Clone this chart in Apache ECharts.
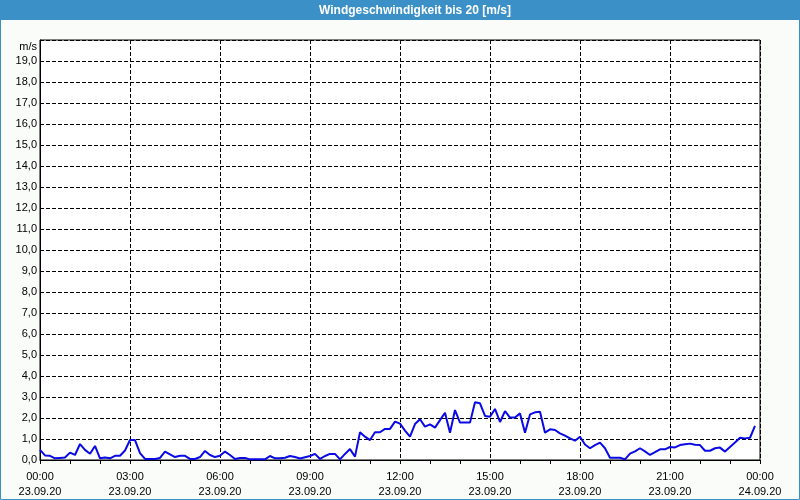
<!DOCTYPE html>
<html>
<head>
<meta charset="utf-8">
<script src="https://cdn.jsdelivr.net/npm/echarts@6/dist/echarts.min.js"></script>
<style>
html,body{margin:0;padding:0;background:#f9fcf9;}
#c{width:800px;height:500px;}
</style>
</head>
<body>
<div id="c"></div>
<script>
// Wind speed, 10-minute steps from 23.09.20 00:00
const stepMinutes = 10;
const windSpeed = [
0.48,0.22,0.2,0.08,0.1,0.12,0.35,0.24,0.76,0.48,0.3,0.67,0.08,0.12,0.08,0.2,0.2,0.45,0.95,0.95,
0.33,0.05,0.05,0.05,0.1,0.4,0.27,0.14,0.2,0.2,0.05,0.05,0.14,0.43,0.24,0.14,0.2,0.4,0.24,0.05,
0.1,0.1,0.03,0.03,0.03,0.03,0.19,0.08,0.08,0.11,0.19,0.14,0.07,0.13,0.19,0.29,0.05,0.19,0.29,0.29,
0.03,0.29,0.52,0.16,1.32,1.11,0.95,1.32,1.32,1.48,1.48,1.83,1.73,1.4,1.11,1.71,1.94,1.59,1.7,1.54,
1.9,2.25,1.3,2.38,1.78,1.78,1.78,2.75,2.7,2.1,2.06,2.43,1.81,2.33,2.02,2.02,2.22,1.3,2.17,2.27,
2.3,1.3,1.46,1.43,1.27,1.16,1.03,0.92,1.11,0.74,0.56,0.71,0.83,0.56,0.11,0.11,0.11,0.03,0.3,0.41,
0.56,0.41,0.24,0.37,0.51,0.51,0.62,0.6,0.71,0.75,0.78,0.73,0.71,0.44,0.44,0.56,0.59,0.4,0.62,0.83,
1.06,1.03,1.06,1.63
];
const xTimeLabels = ['00:00','03:00','06:00','09:00','12:00','15:00','18:00','21:00','00:00'];
const xDateLabels = ['23.09.20','23.09.20','23.09.20','23.09.20','23.09.20','23.09.20','23.09.20','23.09.20','24.09.20'];
const yTickLabels = ['0,0','1,0','2,0','3,0','4,0','5,0','6,0','7,0','8,0','9,0','10,0','11,0','12,0','13,0','14,0','15,0','16,0','17,0','18,0','19,0',''];
const titleText = 'Windgeschwindigkeit bis 20 [m/s]';
const unitText = 'm/s';

const seriesData = windSpeed.map((v, i) => [i * stepMinutes, v]);

const chart = echarts.init(document.getElementById('c'), null, {renderer: 'canvas'});
const font = 'Liberation Sans, Arial, sans-serif';
chart.setOption({
  animation: false,
  backgroundColor: '#f9fcf9',
  grid: {left: 40, right: 40, top: 40, bottom: 40, show: true, backgroundColor: '#ffffff', borderColor: '#000', borderWidth: 1},
  xAxis: {
    type: 'value', min: 0, max: 1440, interval: 180,
    axisLine: {show: true, lineStyle: {color: '#000', width: 1}},
    axisTick: {show: true, length: 4, lineStyle: {color: '#000'}},
    minorTick: {show: true, splitNumber: 3, length: 4, lineStyle: {color: '#000'}},
    splitLine: {show: true, lineStyle: {color: '#000', type: [4, 2], width: 1}},
    axisLabel: {
      fontFamily: font, fontSize: 11, color: '#000', lineHeight: 15, margin: 9,
      formatter: v => { const i = Math.round(v / 180); return xTimeLabels[i] + '\n' + xDateLabels[i]; }
    }
  },
  yAxis: {
    type: 'value', min: 0, max: 20, interval: 1,
    axisLine: {show: true, lineStyle: {color: '#000'}},
    axisTick: {show: false},
    splitLine: {show: true, lineStyle: {color: '#000', type: [4, 2], width: 1}},
    axisLabel: {fontFamily: font, fontSize: 11, color: '#000', margin: 3,
      formatter: v => yTickLabels[Math.round(v)]}
  },
  graphic: [
    {type: 'rect', shape: {x: 0, y: 0, width: 800, height: 20}, style: {fill: '#3b90c8'}, silent: true},
    {type: 'rect', shape: {x: 0.5, y: 0.5, width: 799, height: 499}, style: {fill: null, stroke: '#3b90c8', lineWidth: 1}, silent: true},
    {type: 'text', x: 415, y: 11, style: {text: titleText, fill: '#ffffff', font: 'bold 12px ' + font, textAlign: 'center', textVerticalAlign: 'middle'}, silent: true},
    {type: 'text', x: 37, y: 47, style: {text: unitText, fill: '#000', font: '11px ' + font, textAlign: 'right', textVerticalAlign: 'middle'}, silent: true}
  ],
  series: [{
    type: 'line', data: seriesData, showSymbol: false, symbol: 'none',
    lineStyle: {color: '#0a0ae6', width: 2}, z: 5
  }]
});
</script>
</body>
</html>
